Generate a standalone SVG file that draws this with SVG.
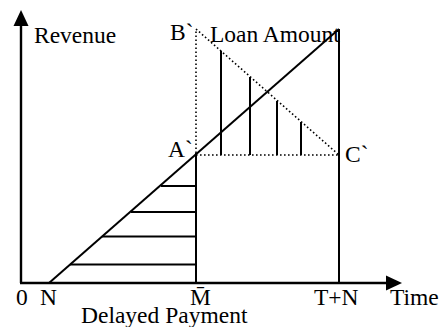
<svg xmlns="http://www.w3.org/2000/svg" width="440" height="327" viewBox="0 0 440 327">
<style>
text{font-family:"Liberation Serif","Times New Roman","DejaVu Serif",serif;font-size:23.5px;fill:#000}
.s{stroke:#000;stroke-width:2;fill:none}
.a{stroke:#000;stroke-width:2.4;fill:none}
.d{stroke:#000;stroke-width:1.6;stroke-dasharray:1.6 2.4;fill:none}
</style>
<rect width="440" height="327" fill="#fff"/>
<g id="axes">
<line class="a" x1="21" y1="283" x2="21" y2="24"/>
<polygon points="21,10 13.5,26 28.5,26" fill="#000"/>
<line class="a" x1="20" y1="283" x2="388" y2="283"/>
<polygon points="402,283 386,275.5 386,290.5" fill="#000"/>
</g>
<g id="connectors">
<line class="s" x1="49" y1="283" x2="339" y2="29"/>
<line class="s" x1="196" y1="153" x2="196" y2="283"/>
<line class="s" x1="339" y1="29" x2="339" y2="283"/>
<line class="d" x1="196" y1="153" x2="196" y2="29"/>
<line class="d" x1="196" y1="29" x2="339" y2="155"/>
<line class="d" x1="196" y1="155" x2="339" y2="155"/>
<line class="s" x1="221" y1="51" x2="221" y2="155"/>
<line class="s" x1="250" y1="77" x2="250" y2="155"/>
<line class="s" x1="277" y1="101" x2="277" y2="155"/>
<line class="s" x1="301" y1="122" x2="301" y2="155"/>
<line class="s" x1="161" y1="186" x2="196" y2="186"/>
<line class="s" x1="131" y1="212" x2="196" y2="212"/>
<line class="s" x1="102" y1="236.5" x2="196" y2="236.5"/>
<line class="s" x1="70" y1="264.5" x2="196" y2="264.5"/>
</g>
<g id="labels" font-family="Liberation Serif, serif">
<text x="34" y="43">Revenue</text>
<text x="170" y="40">B`</text>
<text x="210" y="42">Loan Amount</text>
<text x="168" y="157">A`</text>
<text x="345" y="162">C`</text>
<text x="16" y="305">0</text>
<text x="40" y="305">N</text>
<text x="190" y="305">M̄</text>
<text x="314" y="305">T+N</text>
<text x="390" y="305">Time</text>
<text x="81" y="323">Delayed Payment</text>
</g>
</svg>
